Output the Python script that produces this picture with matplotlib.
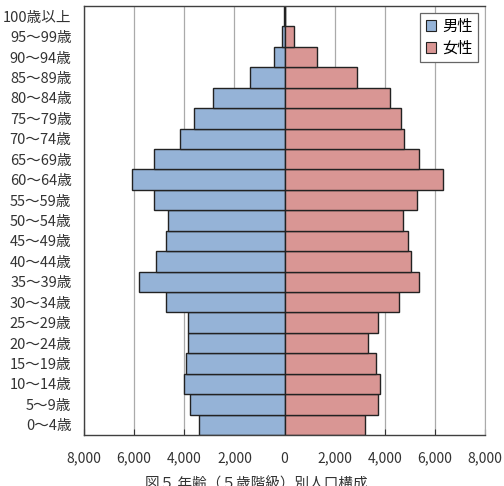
import matplotlib
matplotlib.use('Agg')
import matplotlib.pyplot as plt
import numpy as np

plt.rcParams['font.family'] = ['Noto Sans CJK JP', 'DejaVu Sans']

# Age groups (bottom to top)
age_labels = ['0～4歳', '5～9歳', '10～14歳', '15～19歳', '20～24歳', '25～29歳',
              '30～34歳', '35～39歳', '40～44歳', '45～49歳', '50～54歳', '55～59歳',
              '60～64歳', '65～69歳', '70～74歳', '75～79歳', '80～84歳', '85～89歳',
              '90～94歳', '95～99歳', '100歳以上']

# Population by group
male = [3400, 3760, 4000, 3940, 3840, 3860, 4720, 5810, 5140, 4720, 4640, 5220,
        6070, 5220, 4160, 3600, 2840, 1390, 420, 90, 10]
female = [3210, 3740, 3810, 3660, 3340, 3740, 4580, 5380, 5050, 4940, 4730, 5290,
          6310, 5380, 4770, 4650, 4220, 2910, 1290, 380, 30]

x_ticks = [-8000, -6000, -4000, -2000, 0, 2000, 4000, 6000, 8000]
x_tick_labels = ['8,000', '6,000', '4,000', '2,000', '0', '2,000', '4,000', '6,000', '8,000']

fig = plt.figure(figsize=(5.04, 4.86), dpi=100, facecolor='white')
ax = fig.add_axes([0.1667, 0.1049, 0.7956, 0.8828])

y = np.arange(len(age_labels))
ax.barh(y, -np.array(male), height=1.0, color='#95B3D7', edgecolor='#222222',
        linewidth=1.0, label='男性', zorder=2)
ax.barh(y, female, height=1.0, color='#D99694', edgecolor='#222222',
        linewidth=1.0, label='女性', zorder=2)

ax.set_xlim(-8000, 8000)
ax.set_ylim(-0.5, len(age_labels) - 0.5)
ax.set_xticks(x_ticks)
ax.set_xticklabels(x_tick_labels, fontsize=10, color='#333333')
ax.set_yticks(y)
ax.set_yticklabels(age_labels, fontsize=10.5, color='#333333')

ax.grid(axis='x', color='#AAAAAA', linewidth=0.9, zorder=0)
ax.set_axisbelow(True)
ax.tick_params(axis='x', direction='in', length=4, color='#333333', pad=12)
ax.tick_params(axis='y', length=0, pad=9)

for side in ['left', 'top', 'bottom']:
    ax.spines[side].set_color('#404040')
    ax.spines[side].set_linewidth(1.0)
ax.spines['right'].set_color('#AAAAAA')

leg = ax.legend(loc='upper right', bbox_to_anchor=(0.983, 0.984), borderaxespad=0,
                fontsize=11, handlelength=0.7, handleheight=0.7, handletextpad=0.4,
                borderpad=0.35, labelspacing=0.3, fancybox=False, framealpha=1)
leg.get_frame().set_edgecolor('#666666')
leg.get_frame().set_linewidth(0.9)
for h in leg.legend_handles:
    h.set_linewidth(0.8)

fig.text(0.508, 0.017, '図５ 年齢（５歳階級）別人口構成', ha='center', va='top',
         fontsize=10.5, color='#333333')

fig.savefig('out.png', dpi=100)
